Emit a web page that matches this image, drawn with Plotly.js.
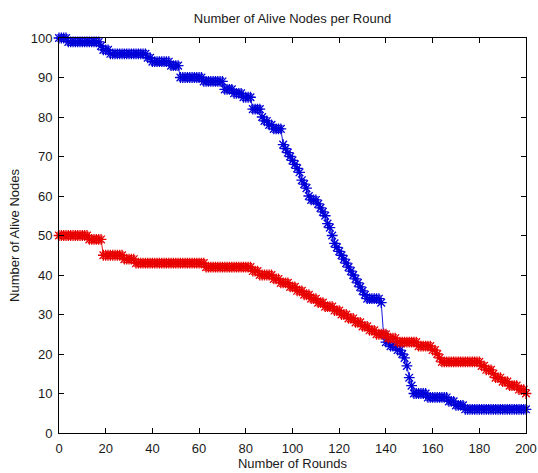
<!DOCTYPE html>
<html>
<head>
<meta charset="utf-8">
<script src="https://cdn.plot.ly/plotly-3.0.1.min.js"></script>
<style>html,body{margin:0;padding:0;background:#fff;}#chart{width:538px;height:473px;}</style>
</head>
<body>
<div id="chart"></div>
<script>
// Round numbers 0..200
var rounds = Array.from({length: 201}, function (_, i) { return i; });

// Series 1 (blue): alive nodes per round
var aliveBlue = [
  100,100,100,100,
  99,99,99,99,99,99,99,99,99,99,99,99,99,99,
  98,
  97,97,97,
  96,96,96,96,96,96,96,96,96,96,96,96,96,96,96,96,
  95,95,
  94,94,94,94,94,94,94,94,
  93,93,93,93,
  90,90,90,90,90,90,90,90,90,90,
  89,89,89,89,89,89,89,89,89,
  87,87,87,87,
  86,86,86,86,
  85,85,85,85,
  82,82,82,82,
  80,79,79,
  78,78,77,77,77,77,
  73,72,71,70,69,68,67,66,64,63,62,60,59,59,59,58,57,56,55,53,52,50,
  48,47,46,45,44,43,42,41,40,39,38,37,36,35,34,34,34,34,34,34,33,
  25,23,23,22,22,22,21,21,20,19,17,14,12,
  10,10,10,10,10,10,
  9,9,9,9,9,9,9,9,9,
  8,8,8,
  7,7,7,7,
  6,6,6,6,6,6,6,6,6,6,6,6,6,6,6,6,6,6,6,6,6,6,6,6,6,6,6
];

// Series 2 (red): alive nodes per round
var aliveRed = [
  50,50,50,50,50,50,50,50,50,50,50,50,50,
  49,49,49,49,49,49,
  45,45,45,45,45,45,45,45,45,
  44,44,44,44,44,
  43,43,43,43,43,43,43,43,43,43,43,43,43,43,43,43,43,43,43,43,43,43,43,43,43,43,43,43,43,43,
  42,42,42,42,42,42,42,42,42,42,42,42,42,42,42,42,42,42,42,42,
  41,41,41,
  40,40,40,40,40,40,
  39,39,39,
  38,38,38,38,
  37,37,37,
  36,36,36,
  35,35,35,
  34,34,34,
  33,33,33,
  32,32,32,32,
  31,31,31,
  30,30,30,
  29,29,29,
  28,28,28,
  27,27,27,
  26,26,26,
  25,25,25,25,25,
  24,24,24,24,
  23,23,23,23,23,23,23,23,23,
  22,22,22,22,22,22,
  21,21,
  20,
  19,
  18,18,18,18,18,18,18,18,18,18,18,18,18,18,18,18,18,
  17,17,
  16,16,16,
  15,
  14,14,14,
  13,13,13,
  12,12,12,12,
  11,11,11,
  10
];

var xTicks = [0, 20, 40, 60, 80, 100, 120, 140, 160, 180, 200];
var yTicks = [0, 10, 20, 30, 40, 50, 60, 70, 80, 90, 100];

var font = {family: '"Liberation Sans", Arial, sans-serif', size: 13, color: '#1a1a1a'};

function series(y, color) {
  return {
    x: rounds, y: y, type: 'scatter', mode: 'lines+markers',
    line: {color: color, width: 0.9},
    marker: {symbol: 'asterisk-open', size: 9, color: color, line: {color: color, width: 1.3}},
    cliponaxis: false, showlegend: false, hoverinfo: 'x+y'
  };
}

var data = [series(aliveBlue, '#0000d8'), series(aliveRed, '#e80000')];

var axisCommon = {
  showline: true, linecolor: '#000', linewidth: 1, mirror: 'ticks',
  ticks: 'inside', ticklen: 5, tickcolor: '#000', tickwidth: 1,
  showgrid: false, zeroline: false, tickfont: font, tickmode: 'array',
  ticklabeloverflow: 'allow'
};

var layout = {
  width: 538, height: 473,
  margin: {l: 59, r: 12, t: 38, b: 40, pad: 0},
  paper_bgcolor: '#fff', plot_bgcolor: '#fff',
  font: font,
  title: {text: 'Number of Alive Nodes per Round', font: font, x: 0.5, xref: 'paper', y: 1 - 18 / 473, yref: 'container', yanchor: 'middle'},
  xaxis: Object.assign({}, axisCommon, {range: [0, 200], tickvals: xTicks, ticktext: xTicks.map(String),
    ticklabelstandoff: 3,
    title: {text: 'Number of Rounds', font: font, standoff: 2}}),
  yaxis: Object.assign({}, axisCommon, {range: [0, 100], tickvals: yTicks, ticktext: yTicks.map(String),
    ticklabelstandoff: 3,
    title: {text: 'Number of Alive Nodes', font: font, standoff: 8}}),
  showlegend: false
};

Plotly.newPlot('chart', data, layout, {displayModeBar: false, staticPlot: true});
</script>
</body>
</html>
